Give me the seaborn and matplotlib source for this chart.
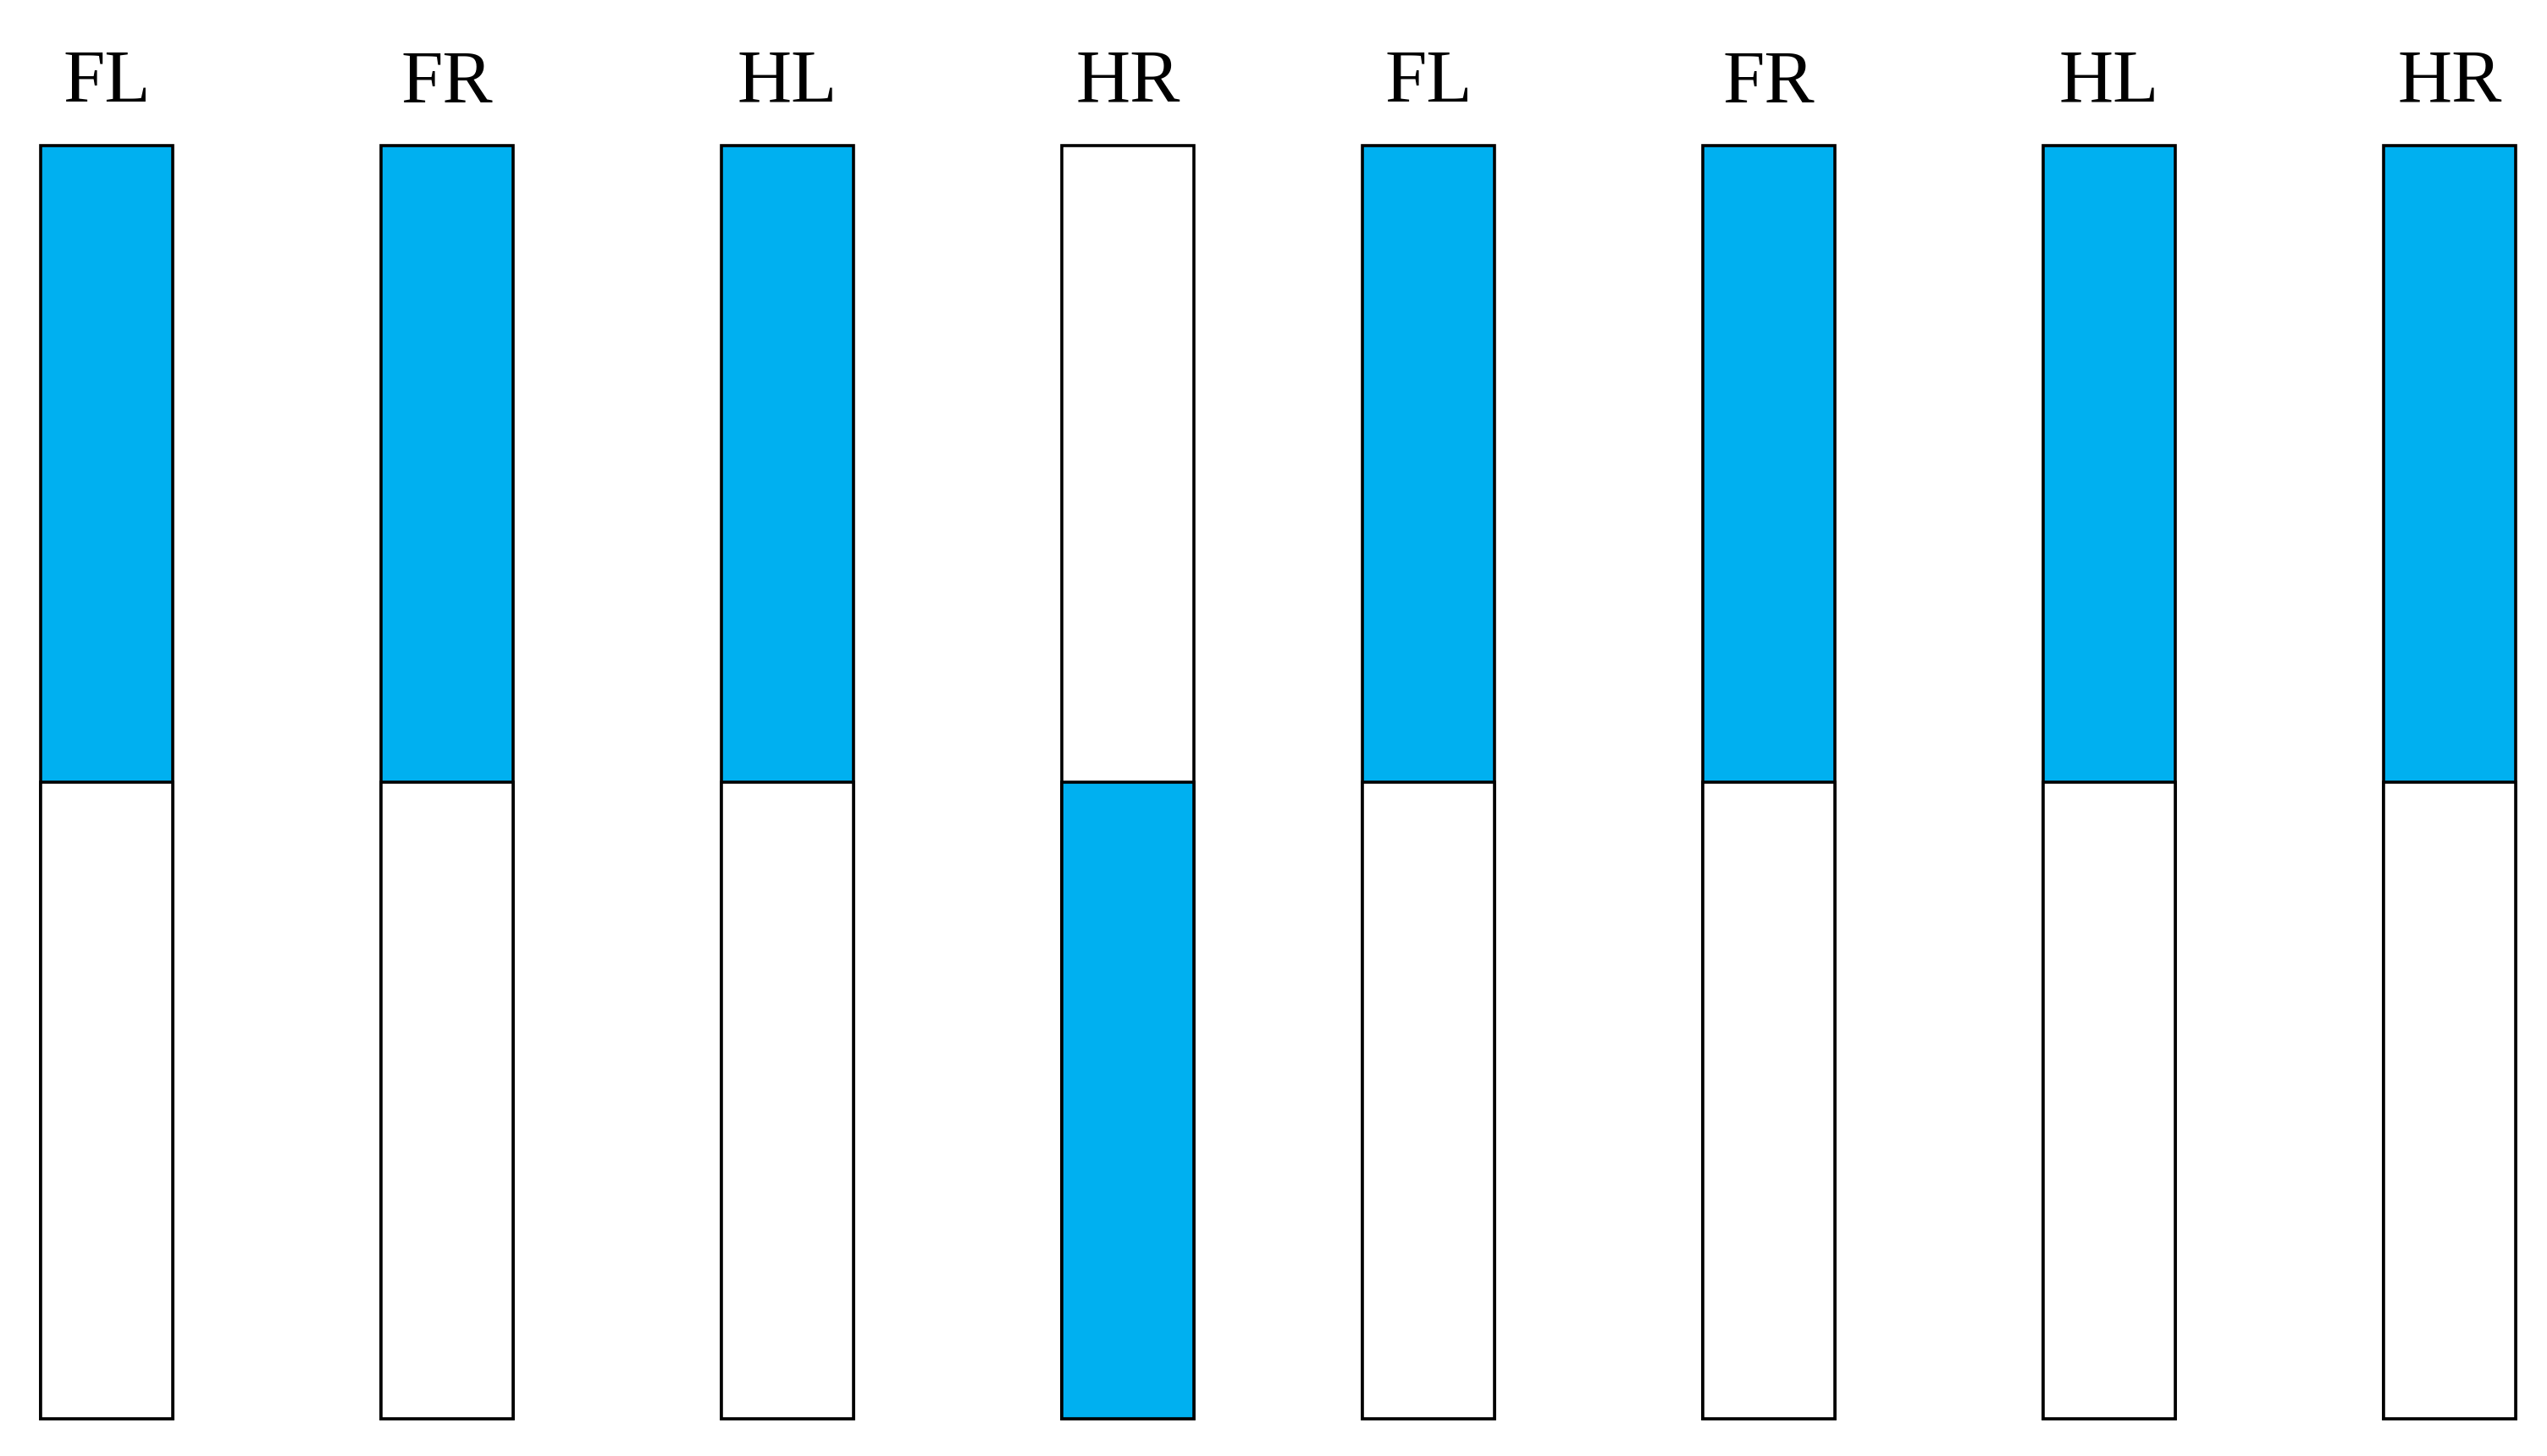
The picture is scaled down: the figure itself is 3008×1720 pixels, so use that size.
import numpy as np
import pandas as pd
import matplotlib
matplotlib.use("Agg")
import matplotlib.pyplot as plt
from matplotlib import font_manager
import seaborn as sns

# ===== Data =====
legs = ["FL", "FR", "HL", "HR"]
# 1 = leg is in the blue phase during the upper half, 0 = during the lower half
phase_a_upper = [1, 1, 1, 0]
phase_b_upper = [1, 1, 1, 1]
half_len = 1.0

BLUE = "#00B0F0"
WHITE = "#FFFFFF"

sns.set_style("white")

# pick a Times-like serif if one is installed
names = sorted({f.name for f in font_manager.fontManager.ttflist})
serif = [n for n in names if "Liberation Serif" in n or "Times" in n or "Tinos" in n]
plt.rcParams["font.family"] = serif[:1] + ["DejaVu Serif"]
plt.rcParams["text.color"] = "black"
plt.rcParams["xtick.color"] = "black"

fig = plt.figure(figsize=(30.08, 17.2), dpi=100)

W, H = 3008, 1720
top_px, bot_px = 172, 1676
ax_w = 1407
lefts = [25.5, 1586.5]


def draw_phase(ax, upper):
    df = pd.DataFrame({
        "leg": legs,
        "full": [2 * half_len] * len(legs),
        "lower": [half_len] * len(legs),
        "upper_col": [BLUE if u else WHITE for u in upper],
        "lower_col": [WHITE if u else BLUE for u in upper],
    })
    # whole bar in the upper colour, then the lower half on top of it
    sns.barplot(data=df, x="leg", y="full", hue="leg", palette=list(df["upper_col"]),
                width=0.388, edgecolor="black", linewidth=2.6, saturation=1,
                legend=False, ax=ax)
    sns.barplot(data=df, x="leg", y="lower", hue="leg", palette=list(df["lower_col"]),
                width=0.388, edgecolor="black", linewidth=2.6, saturation=1,
                legend=False, ax=ax)
    for p in ax.patches:
        p.set_clip_on(False)
    ax.set_xlim(-0.25, 3.25)
    ax.set_ylim(0, 2 * half_len)
    ax.xaxis.tick_top()
    ax.tick_params(axis="x", length=0, pad=24, labelsize=64, labelcolor="black")
    ax.set_yticks([])
    ax.set_xlabel("")
    ax.set_ylabel("")
    sns.despine(ax=ax, left=True, bottom=True, top=True, right=True)


for left, upper in zip(lefts, [phase_a_upper, phase_b_upper]):
    ax = fig.add_axes([left / W, 1 - bot_px / H, ax_w / W, (bot_px - top_px) / H])
    ax.patch.set_alpha(0)
    draw_phase(ax, upper)

fig.savefig("out.png", dpi=100, facecolor="white")
